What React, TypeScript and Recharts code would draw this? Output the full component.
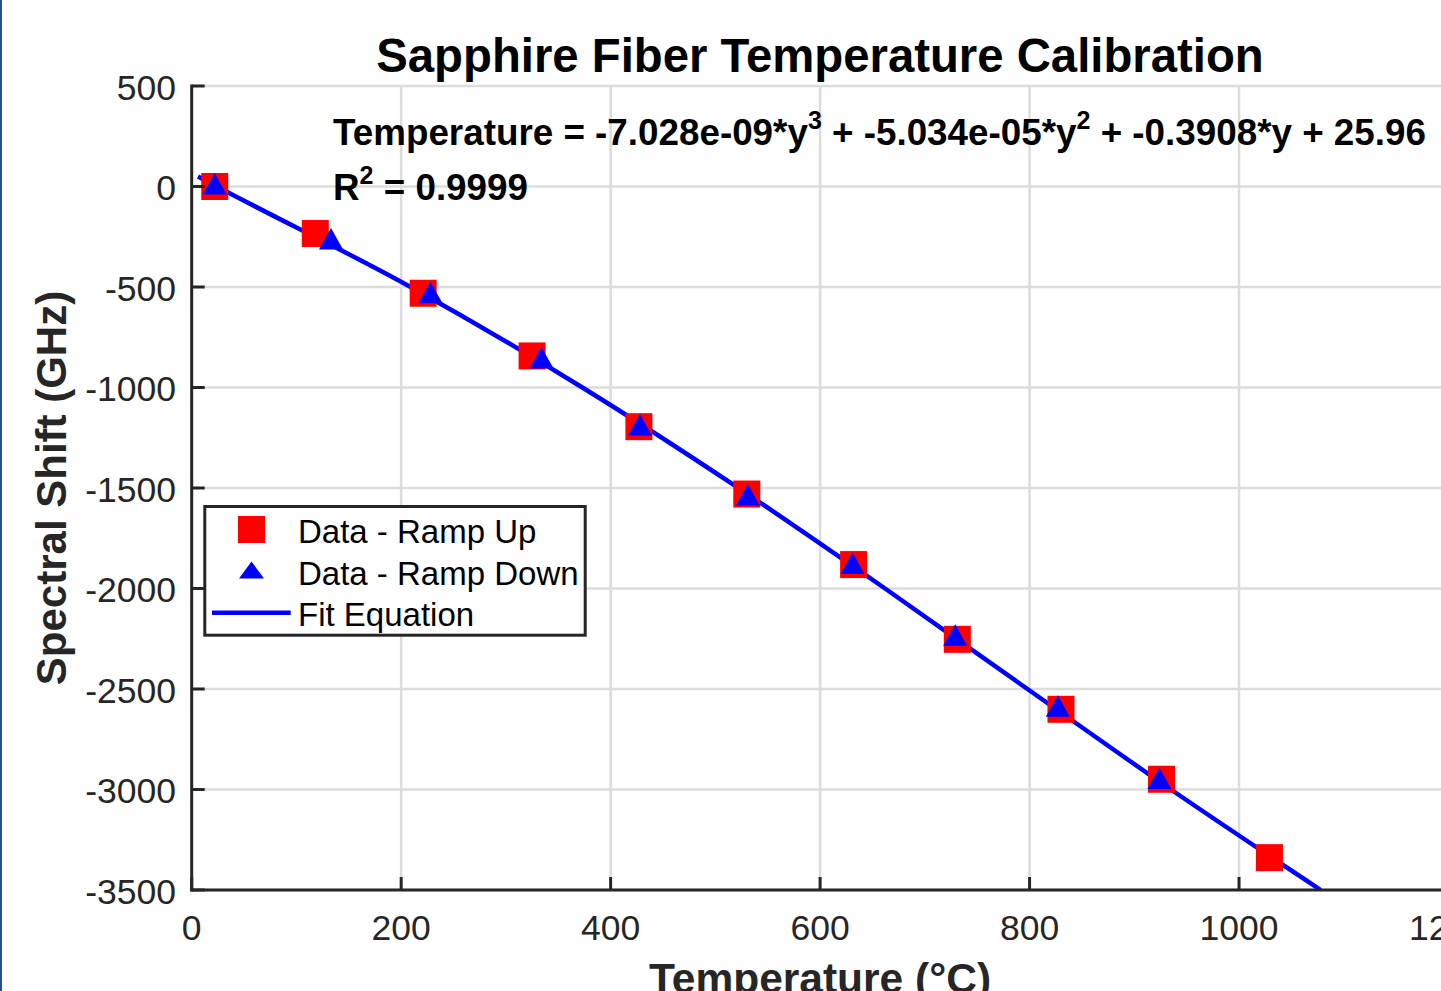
import React from 'react';
import { ComposedChart, XAxis, YAxis, CartesianGrid, Scatter, Line } from 'recharts';

const xTicks = [0, 200, 400, 600, 800, 1000, 1200];
const yTicks = [500, 0, -500, -1000, -1500, -2000, -2500, -3000, -3500];

const rampUpTemp = [22, 118, 221, 325, 427, 530, 632, 731, 830, 926, 1029];
const rampUpShift = [0, -234, -531, -843, -1195, -1530, -1881, -2253, -2601, -2949, -3339];

const rampDownTemp = [22, 133, 228, 334, 428, 531, 631, 729, 827, 924];
const rampDownShift = [12, -261, -528, -853, -1186, -1535, -1876, -2233, -2586, -2945];

const fitTemp = [6, 24, 209, 373, 522, 662, 798, 935, 1078];
const fitShift = [50, 0, -500, -1000, -1500, -2000, -2500, -3000, -3500];

const rampUp = rampUpTemp.map((x, i) => ({ x, y: rampUpShift[i] }));
const rampDown = rampDownTemp.map((x, i) => ({ x, y: rampDownShift[i] }));
const fit = fitTemp.map((x, i) => ({ x, y: fitShift[i] }));

const FONT = 'Liberation Sans, Arial, Helvetica, sans-serif';
const AX = '#262626';
const TICK_FS = 35.5;

const BottomTick = (p: any) => (
  <g>
    <line x1={p.x} x2={p.x} y1={p.y} y2={p.y - 13} stroke={AX} strokeWidth={3} />
    <text x={p.x} y={p.y + 50} textAnchor="middle" fontSize={TICK_FS} fill={AX} fontFamily={FONT}>
      {p.payload.value}
    </text>
  </g>
);
const TopTick = (p: any) => (
  <line x1={p.x} x2={p.x} y1={p.y} y2={p.y + 13} stroke={AX} strokeWidth={3} />
);
const LeftTick = (p: any) => (
  <g>
    <line x1={p.x} x2={p.x + 13} y1={p.y} y2={p.y} stroke={AX} strokeWidth={3} />
    <text x={176} y={p.y + 13.5} textAnchor="end" fontSize={TICK_FS} fill={AX} fontFamily={FONT}>
      {p.payload.value}
    </text>
  </g>
);
const RightTick = (p: any) => (
  <line x1={p.x} x2={p.x - 13} y1={p.y} y2={p.y} stroke={AX} strokeWidth={3} />
);

const Square = (p: any) => (
  <rect x={p.cx - 13.5} y={p.cy - 13.5} width={27} height={27} fill="#ff0000" />
);
const Tri = (p: any) => (
  <polygon
    points={`${p.cx},${p.cy - 11} ${p.cx - 12},${p.cy + 10.5} ${p.cx + 12},${p.cy + 10.5}`}
    fill="#0000ff"
  />
);

const axisLine = { stroke: AX, strokeWidth: 3, strokeLinecap: 'square' as const };

export default function App() {
  return (
    <div style={{ position: 'fixed', left: 0, top: 0, width: 1441, height: 991, overflow: 'hidden', background: '#fff' }}>
      <div style={{ position: 'absolute', left: 0, top: 0 }}>
        <ComposedChart
          width={1500}
          height={991}
          margin={{ top: 86, right: 51.5, bottom: 41, left: 0 }}
        >
          <CartesianGrid stroke="#dcdcdc" strokeWidth={2.5} />
          <XAxis
            dataKey="x"
            type="number"
            domain={[0, 1200]}
            ticks={xTicks}
            interval={0}
            allowDataOverflow
            height={60}
            tickSize={0}
            tickMargin={0}
            tickLine={false}
            axisLine={axisLine}
            tick={BottomTick}
          />
          <XAxis
            xAxisId="top"
            orientation="top"
            type="number"
            domain={[0, 1200]}
            ticks={xTicks}
            interval={0}
            allowDataOverflow
            height={0}
            tickSize={0}
            tickMargin={0}
            tickLine={false}
            axisLine={axisLine}
            tick={TopTick}
          />
          <YAxis
            dataKey="y"
            type="number"
            domain={[-3500, 500]}
            ticks={yTicks}
            interval={0}
            allowDataOverflow
            width={191.7}
            tickSize={0}
            tickMargin={0}
            tickLine={false}
            axisLine={axisLine}
            tick={LeftTick}
          />
          <YAxis
            yAxisId="right"
            orientation="right"
            type="number"
            domain={[-3500, 500]}
            ticks={yTicks}
            interval={0}
            allowDataOverflow
            width={0}
            tickSize={0}
            tickMargin={0}
            tickLine={false}
            axisLine={axisLine}
            tick={RightTick}
          />
          <Scatter name="Data - Ramp Up" data={rampUp} shape={Square} isAnimationActive={false} />
          <Line
            name="Fit Equation"
            data={fit}
            dataKey="y"
            type="monotone"
            stroke="#0000ff"
            strokeWidth={4.5}
            dot={false}
            activeDot={false}
            isAnimationActive={false}
          />
          <Scatter name="Data - Ramp Down" data={rampDown} shape={Tri} isAnimationActive={false} />
        </ComposedChart>
      </div>
      <svg
        width={1441}
        height={991}
        style={{ position: 'absolute', left: 0, top: 0, pointerEvents: 'none' }}
        fontFamily={FONT}
      >
        <text x={820} y={72} textAnchor="middle" fontSize={47.3} fontWeight="bold" fill="#000">
          Sapphire Fiber Temperature Calibration
        </text>
        <text x={333} y={145} fontSize={36.8} fontWeight="bold" fill="#000">
          {'Temperature = -7.028e-09*y'}
          <tspan dy={-16} fontSize={25}>3</tspan>
          <tspan dy={16}>{' + -5.034e-05*y'}</tspan>
          <tspan dy={-16} fontSize={25}>2</tspan>
          <tspan dy={16}>{' + -0.3908*y + 25.96'}</tspan>
        </text>
        <text x={333} y={200} fontSize={36.8} fontWeight="bold" fill="#000">
          {'R'}
          <tspan dy={-16} fontSize={25}>2</tspan>
          <tspan dy={16}>{' = 0.9999'}</tspan>
        </text>
        <text
          x={66}
          y={488}
          textAnchor="middle"
          fontSize={42}
          fontWeight="bold"
          fill={AX}
          transform="rotate(-90 66 488)"
        >
          Spectral Shift (GHz)
        </text>
        <text x={820} y={992.5} textAnchor="middle" fontSize={42.5} fontWeight="bold" fill={AX}>
          Temperature (°C)
        </text>
        <g>
          <rect x={204.8} y={506.5} width={380.4} height={128.7} fill="#fff" stroke={AX} strokeWidth={3} />
          <rect x={238} y={516} width={27} height={27} fill="#ff0000" />
          <polygon points="251.5,561.5 239,578.5 264,578.5" fill="#0000ff" />
          <line x1={212} x2={290.7} y1={612.7} y2={612.7} stroke="#0000ff" strokeWidth={4.5} />
          <text x={298} y={543} fontSize={33} fill="#000">Data - Ramp Up</text>
          <text x={298} y={584.5} fontSize={33} fill="#000">Data - Ramp Down</text>
          <text x={298} y={626} fontSize={33} fill="#000">Fit Equation</text>
        </g>
      </svg>
      <div style={{ position: 'absolute', left: 0, top: 0, width: 2, height: 991, background: '#24528f' }} />
    </div>
  );
}
